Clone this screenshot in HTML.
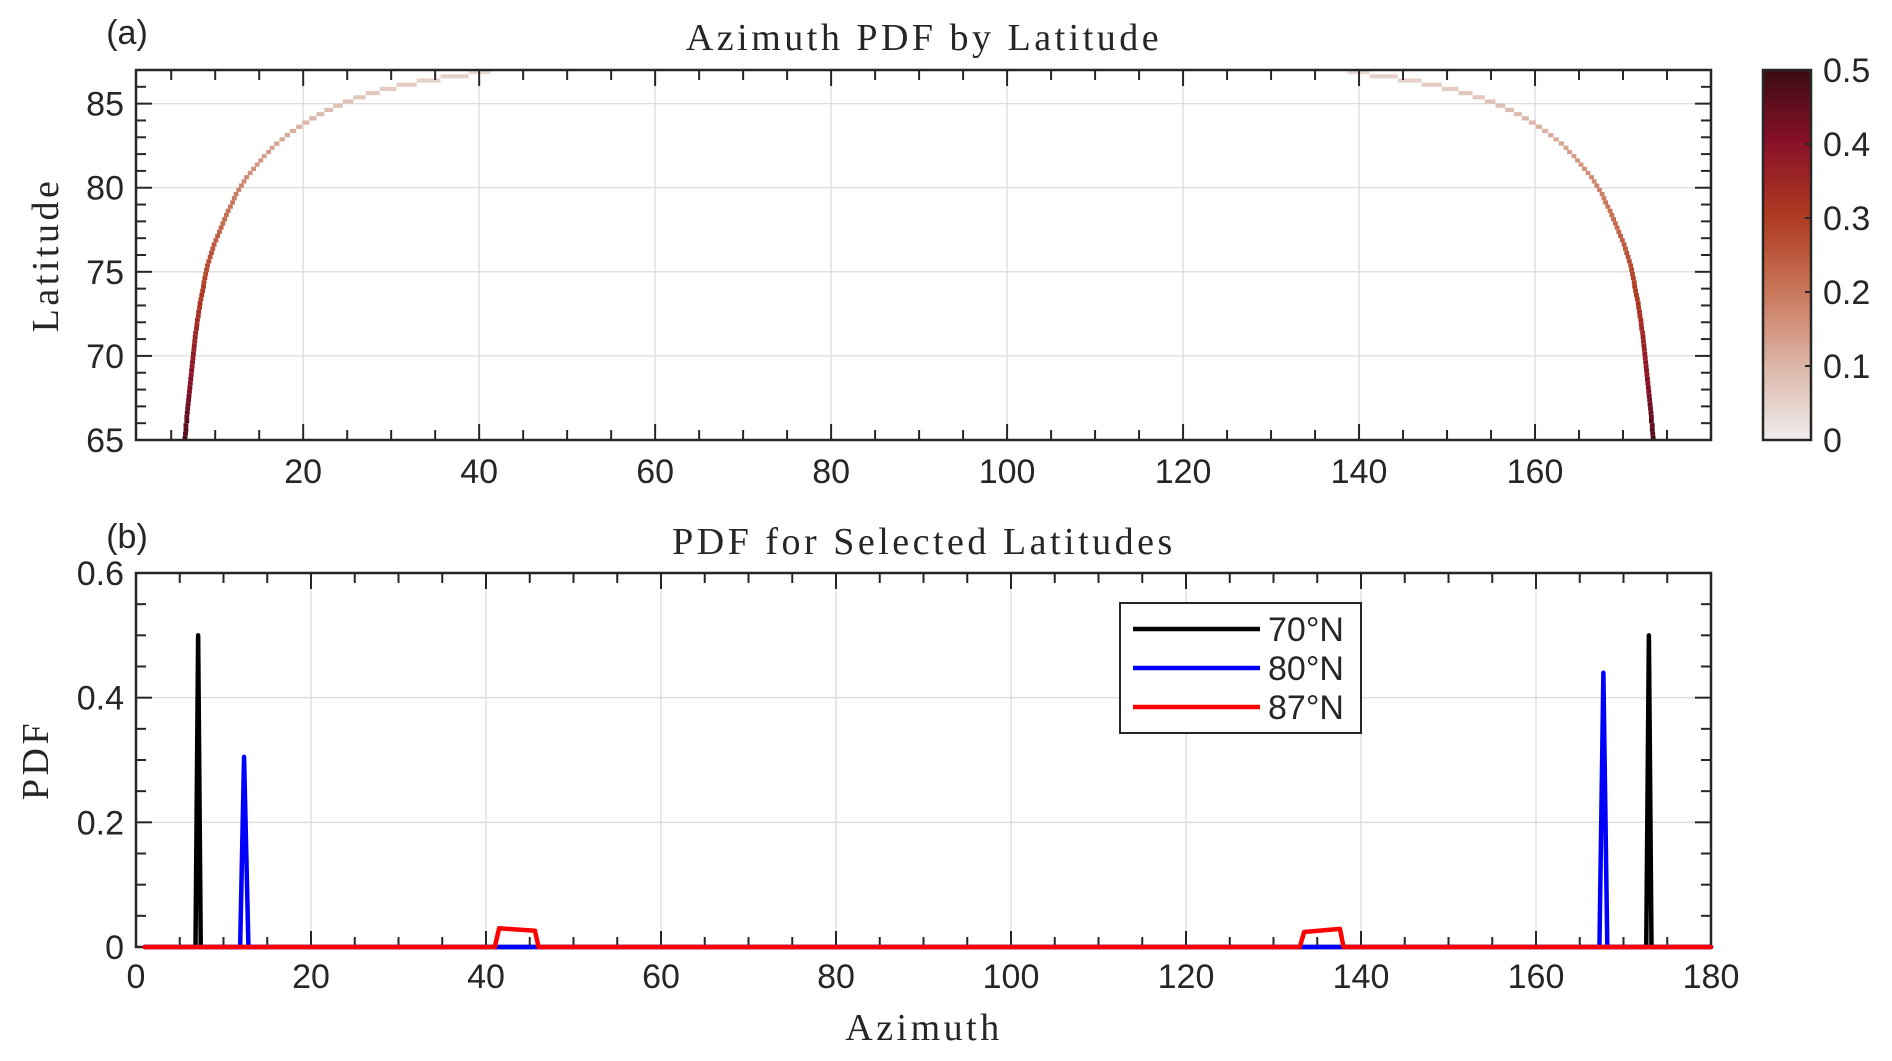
<!DOCTYPE html>
<html><head><meta charset="utf-8">
<style>
html,body{margin:0;padding:0;background:#fff;}
svg{display:block;}
.tk{font-family:"Liberation Sans",Arial,sans-serif;font-size:34px;fill:#262626;}
.ttl{font-family:"Liberation Serif","DejaVu Serif",serif;font-size:38px;letter-spacing:3.5px;fill:#262626;}
</style></head>
<body>
<svg id="fig" width="1892" height="1061" viewBox="0 0 1892 1061" xmlns="http://www.w3.org/2000/svg">
<defs>
<linearGradient id="cmap" x1="0" y1="1" x2="0" y2="0">
<stop offset="0" stop-color="#f0eeee"/>
<stop offset="0.2" stop-color="#dcb6a8"/>
<stop offset="0.4" stop-color="#c9775b"/>
<stop offset="0.6" stop-color="#b03c22"/>
<stop offset="0.8" stop-color="#8b1128"/>
<stop offset="1" stop-color="#3a0c14"/>
</linearGradient>
</defs>
<g id="topPanel"></g>
<g id="botPanel"></g>
</svg>
<script>
// ---------- Panel (a) data ----------
const latBins = [65.125,65.375,65.625,65.875,66.125,66.375,66.625,66.875,67.125,67.375,67.625,67.875,68.125,68.375,68.625,68.875,69.125,69.375,69.625,69.875,70.125,70.375,70.625,70.875,71.125,71.375,71.625,71.875,72.125,72.375,72.625,72.875,73.125,73.375,73.625,73.875,74.125,74.375,74.625,74.875,75.125,75.375,75.625,75.875,76.125,76.375,76.625,76.875,77.125,77.375,77.625,77.875,78.125,78.375,78.625,78.875,79.125,79.375,79.625,79.875,80.125,80.375,80.625,80.875,81.125,81.375,81.625,81.875,82.125,82.375,82.625,82.875,83.125,83.375,83.625,83.875,84.125,84.375,84.625,84.875,85.125,85.375,85.625,85.875,86.125,86.375,86.625,86.875];
const azLeft = [6.3,6.35,6.4,6.4,6.5,6.5,6.55,6.6,6.65,6.7,6.75,6.8,6.85,6.9,6.95,7.0,7.05,7.1,7.15,7.2,7.25,7.3,7.35,7.4,7.45,7.5,7.6,7.65,7.7,7.8,7.85,7.95,8.0,8.1,8.2,8.3,8.4,8.45,8.55,8.65,8.75,8.85,9.0,9.15,9.3,9.45,9.6,9.8,10.0,10.2,10.4,10.6,10.8,11.0,11.2,11.45,11.7,11.9,12.1,12.4,12.7,13.0,13.3,13.7,14.1,14.5,14.9,15.3,15.8,16.2,16.7,17.3,17.9,18.5,19.2,19.9,20.7,21.5,22.4,23.4,24.5,25.7,27.1,28.7,30.6,32.9,35.6,38.8];
const pdfVals = [0.48,0.46,0.47,0.45,0.46,0.44,0.45,0.43,0.44,0.42,0.43,0.41,0.42,0.40,0.41,0.39,0.40,0.38,0.39,0.37,0.38,0.36,0.37,0.35,0.36,0.34,0.35,0.33,0.34,0.32,0.33,0.31,0.32,0.30,0.31,0.30,0.30,0.29,0.29,0.28,0.28,0.27,0.27,0.26,0.26,0.25,0.25,0.24,0.24,0.23,0.23,0.22,0.22,0.21,0.21,0.20,0.20,0.19,0.19,0.18,0.18,0.17,0.17,0.16,0.16,0.15,0.15,0.14,0.14,0.13,0.13,0.12,0.12,0.11,0.11,0.10,0.10,0.09,0.09,0.08,0.08,0.07,0.07,0.06,0.06,0.05,0.05,0.04];
const topXTicks = [20,40,60,80,100,120,140,160];
const topYTicks = [65,70,75,80,85];
const cbarTicks = [0,0.1,0.2,0.3,0.4,0.5];

// ---------- Panel (b) data ----------
const az70 = [1,6.8,7.1,7.4,172.6,172.9,173.2,180];
const pdf70 = [0,0,0.50,0,0,0.50,0,0];
const az80 = [1,11.9,12.35,12.85,167.25,167.7,168.15,180];
const pdf80 = [0,0,0.305,0,0,0.44,0,0];
const az87 = [1,41,41.5,45.6,46,133,133.5,137.6,138,180];
const pdf87 = [0,0,0.030,0.026,0,0,0.024,0.029,0,0];
const botXTicks = [0,20,40,60,80,100,120,140,160,180];
const botYTicks = [0,0.2,0.4,0.6];
const seriesNames = ["70°N","80°N","87°N"];

const NS="http://www.w3.org/2000/svg";
function mk(tag, attrs, parent){const e=document.createElementNS(NS,tag);for(const k in attrs)e.setAttribute(k,attrs[k]);parent.appendChild(e);return e;}
function fmt(v){return (Math.round(v*10)/10).toString();}

const cstops=[[0,[240,238,238]],[0.1,[220,182,168]],[0.2,[201,119,91]],[0.3,[176,60,34]],[0.4,[139,17,40]],[0.5,[58,12,20]]];
function cmap(v){v=Math.max(0,Math.min(0.5,v));for(let i=0;i<cstops.length-1;i++){const a=cstops[i],b=cstops[i+1];if(v<=b[0]){const t=(v-a[0])/(b[0]-a[0]);const c=a[1].map((x,j)=>Math.round(x+(b[1][j]-x)*t));return `rgb(${c[0]},${c[1]},${c[2]})`;}}return 'rgb(58,12,20)';}

// ===== Panel (a) =====
const A={L:136,R:1711,T:70,B:440,x0:1,x1:180,y0:65,y1:87};
const ax=v=>A.L+(v-A.x0)/(A.x1-A.x0)*(A.R-A.L);
const ay=v=>A.B-(v-A.y0)/(A.y1-A.y0)*(A.B-A.T);
const topG=document.getElementById('topPanel');
topXTicks.forEach(v=>{const g=mk('line',{x1:ax(v),x2:ax(v),y1:A.T,y2:A.B,stroke:'#dcdcdc','stroke-width':1.3},topG);

});
topYTicks.slice(1).forEach(v=>{const g=mk('line',{x1:A.L,x2:A.R,y1:ay(v),y2:ay(v),stroke:'#dcdcdc','stroke-width':1.3},topG);

});
const binH=0.25;
for(let i=0;i<latBins.length;i++){
  const a=azLeft[i];
  const nxt=(i<latBins.length-1)?azLeft[i+1]:41.3;
  const w=Math.max(0.55,nxt-a);
  const yTop=ay(latBins[i]+binH/2), yBot=ay(latBins[i]-binH/2);
  const col=cmap(pdfVals[i]);
  const cl=mk('rect',{x:ax(a),y:yTop,width:ax(a+w)-ax(a),height:yBot-yTop,fill:col},topG);
  
  
  const cr=mk('rect',{x:ax(180-a-w),y:yTop,width:ax(a+w)-ax(a),height:yBot-yTop,fill:col},topG);
  
  
}
const boxA=mk('rect',{x:A.L,y:A.T,width:A.R-A.L,height:A.B-A.T,fill:'none',stroke:'#262626','stroke-width':2.5},topG);


for(let v=5;v<180;v+=5){const major=(v%20===0);const len=major?16:10;
  mk('line',{x1:ax(v),x2:ax(v),y1:A.B,y2:A.B-len,stroke:'#262626','stroke-width':2},topG);
  mk('line',{x1:ax(v),x2:ax(v),y1:A.T,y2:A.T+len,stroke:'#262626','stroke-width':2},topG);}
for(let v=66;v<87;v++){const major=(v%5===0);const len=major?16:10;
  mk('line',{x1:A.L,x2:A.L+len,y1:ay(v),y2:ay(v),stroke:'#262626','stroke-width':2},topG);
  mk('line',{x1:A.R,x2:A.R-len,y1:ay(v),y2:ay(v),stroke:'#262626','stroke-width':2},topG);}
topXTicks.forEach(v=>{const t=mk('text',{x:ax(v),y:483,'text-anchor':'middle',class:'tk'},topG);t.textContent=v;

});
topYTicks.forEach(v=>{const t=mk('text',{x:124,y:ay(v)+12,'text-anchor':'end',class:'tk'},topG);t.textContent=v;

});
const CB={L:1763,R:1811,T:70,B:440};
const cb=mk('rect',{x:CB.L,y:CB.T,width:CB.R-CB.L,height:CB.B-CB.T,fill:'url(#cmap)',stroke:'#262626','stroke-width':2.5},topG);


cbarTicks.forEach(v=>{const y=CB.B-v/0.5*(CB.B-CB.T);
  mk('line',{x1:CB.R,x2:CB.R-6,y1:y,y2:y,stroke:'#262626','stroke-width':2},topG);
  const t=mk('text',{x:1823,y:y+12,'text-anchor':'start',class:'tk'},topG);t.textContent=fmt(v);
  
  });
let lbl;
lbl=mk('text',{x:924,y:50,'text-anchor':'middle',class:'ttl'},topG);lbl.textContent='Azimuth PDF by Latitude';


lbl=mk('text',{x:127,y:44,'text-anchor':'middle',class:'tk','font-size':'30'},topG);lbl.textContent='(a)';


lbl=mk('text',{x:0,y:0,'text-anchor':'middle',class:'ttl',transform:'translate(58,255) rotate(-90)'},topG);lbl.textContent='Latitude';



// ===== Panel (b) =====
const B={L:136,R:1711,T:573,B:947,x0:0,x1:180,y0:0,y1:0.6};
const bx=v=>B.L+(v-B.x0)/(B.x1-B.x0)*(B.R-B.L);
const by=v=>B.B-(v-B.y0)/(B.y1-B.y0)*(B.B-B.T);
const botG=document.getElementById('botPanel');
botXTicks.slice(1,-1).forEach(v=>{const g=mk('line',{x1:bx(v),x2:bx(v),y1:B.T,y2:B.B,stroke:'#dcdcdc','stroke-width':1.3},botG);

});
botYTicks.slice(1,-1).forEach(v=>{const g=mk('line',{x1:B.L,x2:B.R,y1:by(v),y2:by(v),stroke:'#dcdcdc','stroke-width':1.3},botG);

});
const boxB=mk('rect',{x:B.L,y:B.T,width:B.R-B.L,height:B.B-B.T,fill:'none',stroke:'#262626','stroke-width':2.5},botG);


for(let v=5;v<180;v+=5){const major=(v%20===0);const len=major?16:10;
  mk('line',{x1:bx(v),x2:bx(v),y1:B.B,y2:B.B-len,stroke:'#262626','stroke-width':2},botG);
  mk('line',{x1:bx(v),x2:bx(v),y1:B.T,y2:B.T+len,stroke:'#262626','stroke-width':2},botG);}
for(let k=1;k<12;k++){const v=k*0.05;const major=(k%4===0);const len=major?16:10;
  mk('line',{x1:B.L,x2:B.L+len,y1:by(v),y2:by(v),stroke:'#262626','stroke-width':2},botG);
  mk('line',{x1:B.R,x2:B.R-len,y1:by(v),y2:by(v),stroke:'#262626','stroke-width':2},botG);}
const series=[[az70,pdf70,'#000000','line-70n'],[az80,pdf80,'#0000ff','line-80n'],[az87,pdf87,'#ff0000','line-87n']];
series.forEach(s=>{const pts=s[0].map((a,i)=>bx(a).toFixed(2)+','+by(s[1][i]).toFixed(2)).join(' ');
  const p=mk('polyline',{points:pts,fill:'none',stroke:s[2],'stroke-width':4.5,'stroke-linejoin':'round','stroke-linecap':'round'},botG);
  
  });
botXTicks.forEach(v=>{const tt=mk('text',{x:bx(v),y:988,'text-anchor':'middle',class:'tk'},botG);tt.textContent=v;

});
botYTicks.forEach(v=>{const tt=mk('text',{x:124,y:by(v)+12,'text-anchor':'end',class:'tk'},botG);tt.textContent=fmt(v);

});
lbl=mk('text',{x:924,y:554,'text-anchor':'middle',class:'ttl'},botG);lbl.textContent='PDF for Selected Latitudes';


lbl=mk('text',{x:127,y:548,'text-anchor':'middle',class:'tk','font-size':'30'},botG);lbl.textContent='(b)';


lbl=mk('text',{x:924,y:1040,'text-anchor':'middle',class:'ttl'},botG);lbl.textContent='Azimuth';


lbl=mk('text',{x:0,y:0,'text-anchor':'middle',class:'ttl',transform:'translate(48,760) rotate(-90)'},botG);lbl.textContent='PDF';


const lg=mk('g',{},botG);


mk('rect',{x:1120,y:603,width:241,height:130,fill:'#fff',stroke:'#262626','stroke-width':2},lg);
const legY=[629,668,707];
series.forEach((s,i)=>{
  const ln=mk('line',{x1:1133,x2:1260,y1:legY[i],y2:legY[i],stroke:s[2],'stroke-width':4.5},lg);
  
  
  const tx=mk('text',{x:1268,y:legY[i]+12,class:'tk','font-size':'34'},lg);tx.textContent=seriesNames[i];
  
  
});
</script>
</body></html>
